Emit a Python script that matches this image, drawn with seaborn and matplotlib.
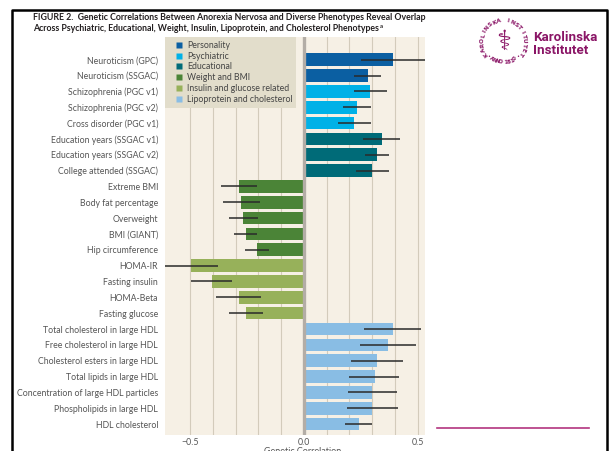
import numpy as np
import pandas as pd
import matplotlib
matplotlib.use("Agg")
import matplotlib.pyplot as plt
import seaborn as sns
from matplotlib.lines import Line2D

# ---------------- data ----------------
labels = ["Neuroticism (GPC)", "Neuroticism (SSGAC)", "Schizophrenia (PGC v1)",
          "Schizophrenia (PGC v2)", "Cross disorder (PGC v1)", "Education years (SSGAC v1)",
          "Education years (SSGAC v2)", "College attended (SSGAC)", "Extreme BMI",
          "Body fat percentage", "Overweight", "BMI (GIANT)", "Hip circumference",
          "HOMA-IR", "Fasting insulin", "HOMA-Beta", "Fasting glucose",
          "Total cholesterol in large HDL", "Free cholesterol in large HDL",
          "Cholesterol esters in large HDL", "Total lipids in large HDL",
          "Concentration of large HDL particles", "Phospholipids in large HDL",
          "HDL cholesterol"]
values = [0.39, 0.28, 0.29, 0.232, 0.221, 0.342, 0.321, 0.30,
          -0.287, -0.277, -0.267, -0.257, -0.208,
          -0.497, -0.406, -0.287, -0.257,
          0.39, 0.371, 0.321, 0.311, 0.299, 0.299, 0.24]
ci_low = [0.25, 0.22, 0.22, 0.17, 0.151, 0.261, 0.27, 0.229,
          -0.367, -0.358, -0.33, -0.308, -0.26,
          -0.62, -0.497, -0.386, -0.331,
          0.265, 0.248, 0.207, 0.20, 0.192, 0.189, 0.18]
ci_high = [0.55, 0.34, 0.364, 0.293, 0.293, 0.422, 0.372, 0.372,
           -0.208, -0.195, -0.204, -0.205, -0.154,
           -0.38, -0.317, -0.189, -0.182,
           0.515, 0.493, 0.434, 0.419, 0.408, 0.412, 0.30]
group_order = ["Personality", "Psychiatric", "Educational", "Weight and BMI",
               "Insulin and glucose related", "Lipoprotein and cholesterol"]
groups = (["Personality"] * 2 + ["Psychiatric"] * 3 + ["Educational"] * 3 +
          ["Weight and BMI"] * 5 + ["Insulin and glucose related"] * 4 +
          ["Lipoprotein and cholesterol"] * 7)
group_colors = ["#0b5fa2", "#00b1e7", "#006b78", "#4b8437", "#97b15a", "#89bde4"]
xtick_vals = [-0.5, 0.0, 0.5]
xtick_labels = ["\u22120.5", "0.0", "0.5"]
grid_vals = [-0.4, -0.3, -0.2, -0.1, 0.1, 0.2, 0.3, 0.4]

title1 = "FIGURE 2.  Genetic Correlations Between Anorexia Nervosa and Diverse Phenotypes Reveal Overlap"
title2 = "Across Psychiatric, Educational, Weight, Insulin, Lipoprotein, and Cholesterol Phenotypes"

# ---------------- figure ----------------
W, H = 611, 451
fig = plt.figure(figsize=(W / 100, H / 100), dpi=100)
fig.patch.set_facecolor("white")
ax = fig.add_axes([165 / W, 1 - 435 / H, 260 / W, 398 / H])

df = pd.DataFrame({"label": labels, "value": values, "group": groups})
palette = dict(zip(group_order, group_colors))
sns.barplot(data=df, y="label", x="value", hue="group", hue_order=group_order,
            palette=palette, dodge=False, orient="h", width=0.8, saturation=1,
            errorbar=None, legend=False, ax=ax, zorder=2, linewidth=0)

ax.hlines(y=np.arange(len(labels)), xmin=ci_low, xmax=ci_high,
          color="#2a2a2a", lw=1.1, zorder=3)

ax.set_xlim(-0.611, 0.532)
ax.set_ylim(23.69, -1.43)
ax.set_facecolor("#f6f0e5")
for s in ax.spines.values():
    s.set_visible(False)
ax.set_xlabel("")
ax.set_ylabel("")
ax.set_xticks(xtick_vals)
ax.set_xticklabels(xtick_labels)
ax.set_xticks(grid_vals, minor=True)
ax.grid(axis="x", which="both", color="#d3cbbb", lw=0.8, zorder=0)
ax.grid(axis="y", visible=False)
ax.set_axisbelow(True)
ax.axvline(0, color="#b3ada6", lw=2.4, zorder=4)
ax.tick_params(axis="x", which="both", length=0, pad=2.2, labelsize=6.3,
               labelcolor="#555555")
ax.tick_params(axis="y", length=0, pad=5, labelsize=6.3, labelcolor="#555555")
for t in ax.get_xticklabels() + ax.get_yticklabels():
    t.set_family(["Lato", "DejaVu Sans"])

handles = [Line2D([], [], linestyle="none", marker="s", markersize=4,
                  markerfacecolor=c, markeredgecolor="none") for c in group_colors]
leg = ax.legend(handles, group_order, loc="upper left", bbox_to_anchor=(0, 1),
                borderaxespad=0, frameon=True, fancybox=False,
                facecolor="#e2ddcb", edgecolor="none", framealpha=1,
                prop={"family": "Lato", "size": 6.3}, handlelength=2.4,
                handletextpad=-0.35, labelspacing=0.2, borderpad=0.45)
for t in leg.get_texts():
    t.set_color("#444444")
leg.set_zorder(6)

# ---------------- titles and decorations ----------------
t1 = fig.text(33 / W, 1 - 17 / H, title1, fontsize=6.35, fontweight="bold",
              family=["Lato", "DejaVu Sans"], va="center", ha="left", color="#231f20")
t2 = fig.text(33 / W, 1 - 28.5 / H, title2, fontsize=6.35, fontweight="bold",
              family=["Lato", "DejaVu Sans"], va="center", ha="left", color="#231f20")
fig.canvas.draw()
bb = t2.get_window_extent()
fig.text(bb.x1 / W + 0.002, 1 - 26 / H, "a", fontsize=4.3, fontweight="bold",
         family=["Lato", "DejaVu Sans"], va="center", ha="left", color="#231f20")

fig.text(303 / W, 1 - 447.5 / H, "Genetic Correlation", fontsize=6.5,
         family=["Lato", "DejaVu Sans"], va="top", ha="center", color="#555555")

# frame
fig.add_artist(Line2D([12 / W, 12 / W, 607 / W, 607 / W],
                      [-0.02, 1 - 10 / H, 1 - 10 / H, -0.02],
                      color="black", lw=1.8, transform=fig.transFigure))
# pink rule
ki = "#8a1566"
fig.add_artist(Line2D([437 / W, 589 / W], [1 - 428 / H] * 2, color="#b3357f",
                      lw=1.2, transform=fig.transFigure))

# Karolinska logo (text)
fig.text(533 / W, 1 - 37.5 / H, "Karolinska", fontsize=9.6, fontweight="bold",
         family=["Liberation Sans Narrow", "Roboto", "DejaVu Sans"],
         color=ki, va="center", ha="left")
fig.text(533 / W, 1 - 51 / H, "Institutet", fontsize=9.6, fontweight="bold",
         family=["Liberation Sans Narrow", "Roboto", "DejaVu Sans"],
         color=ki, va="center", ha="left")

cx, cy, r = 503.5, 41.5, 21
ring_top = "KAROLINSKA INSTITUTET"
angles = np.linspace(215, -35, len(ring_top))
for ch, a in zip(ring_top, angles):
    ar = np.deg2rad(a)
    fig.text((cx + r * np.cos(ar)) / W, 1 - (cy - r * np.sin(ar)) / H, ch,
             fontsize=4.2, fontweight="bold", color=ki, rotation=a - 90,
             ha="center", va="center", family=["DejaVu Sans"])
ring_bot = "ANNO 1810"
angles_b = np.linspace(237, 303, len(ring_bot))
for ch, a in zip(ring_bot, angles_b):
    ar = np.deg2rad(a)
    fig.text((cx + r * np.cos(ar)) / W, 1 - (cy - r * np.sin(ar)) / H, ch,
             fontsize=4.0, fontweight="bold", color=ki, rotation=a + 90,
             ha="center", va="center", family=["DejaVu Sans"])
for a in (226, 314):
    ar = np.deg2rad(a)
    fig.text((cx + r * np.cos(ar)) / W, 1 - (cy - r * np.sin(ar)) / H, "\u2022",
             fontsize=3.8, color=ki, ha="center", va="center")
fig.text(cx / W, 1 - cy / H, "\u2695", fontsize=20, color=ki, ha="center",
         va="center", family=["DejaVu Sans"])

fig.savefig("out.png", dpi=100)
